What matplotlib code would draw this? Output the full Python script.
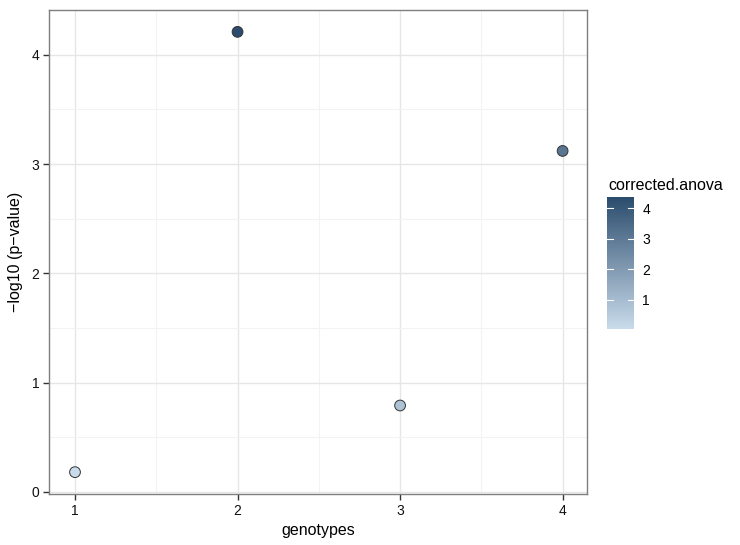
import matplotlib
matplotlib.use("Agg")
import matplotlib.pyplot as plt
from matplotlib.colors import LinearSegmentedColormap
from matplotlib.ticker import MultipleLocator

plt.rcParams['font.family'] = ['Liberation Sans', 'DejaVu Sans']

# data
genotypes = [1, 2, 3, 4]
neg_log10_p = [0.18, 4.21, 0.79, 3.12]
corrected_anova = [0.05, 4.35, 0.80, 3.10]
cbar_ticks = [1, 2, 3, 4]

cmap = LinearSegmentedColormap.from_list('blues', ['#c9dbeb', '#2b4c6d'])

fig = plt.figure(figsize=(7.4, 5.45), dpi=100)
ax = fig.add_axes([49 / 740, 1 - 494 / 545, (587 - 49) / 740, (494 - 10) / 545])

sc = ax.scatter(genotypes, neg_log10_p, c=corrected_anova, cmap=cmap,
                vmin=0.04, vmax=4.36, s=60, edgecolors='#333333',
                linewidths=0.7, zorder=3)

ax.set_xlim(0.84, 4.15)
ax.set_ylim(-0.02, 4.41)
ax.xaxis.set_major_locator(MultipleLocator(1))
ax.yaxis.set_major_locator(MultipleLocator(1))
ax.xaxis.set_minor_locator(MultipleLocator(0.5))
ax.yaxis.set_minor_locator(MultipleLocator(0.5))
ax.grid(which='major', color='#e6e6e6', lw=1.0, zorder=0)
ax.grid(which='minor', color='#f3f3f3', lw=0.8, zorder=0)
ax.set_axisbelow(True)
for s in ax.spines.values():
    s.set_color('#7f7f7f')
    s.set_linewidth(1.0)
ax.tick_params(which='major', length=4, color='#333333', width=1.0,
               labelsize=10, labelcolor='#111111', pad=3)
ax.tick_params(which='minor', length=0)
ax.set_xlabel('genotypes', fontsize=11.5, labelpad=4)
ax.set_ylabel('\u2212log10 (p\u2212value)', fontsize=11.5, labelpad=6)

# colour bar
cax = fig.add_axes([607 / 740, 1 - 329 / 545, 27 / 740, 132 / 545])
cb = fig.colorbar(sc, cax=cax, ticks=cbar_ticks)
cb.outline.set_visible(False)
cax.tick_params(length=0, labelsize=10, pad=6)
for t in cbar_ticks:
    cax.plot([0, 0.22], [t, t], color='white', lw=0.8, transform=cax.get_yaxis_transform())
    cax.plot([0.78, 1], [t, t], color='white', lw=0.8, transform=cax.get_yaxis_transform())
fig.text(608 / 740, 1 - 186 / 545, 'corrected.anova', fontsize=11.5, va='center', ha='left')

fig.savefig('out.png', dpi=100)
